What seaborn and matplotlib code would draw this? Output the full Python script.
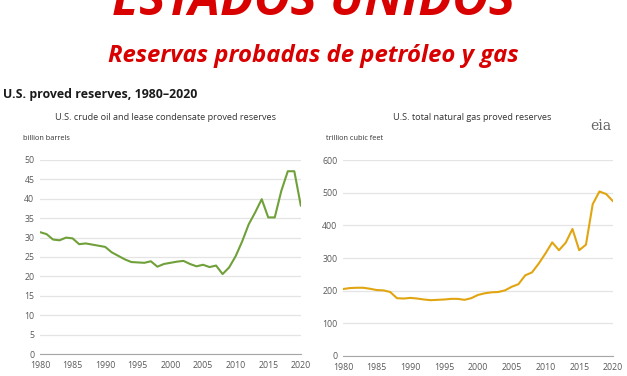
import seaborn as sns
import matplotlib.pyplot as plt
import pandas as pd

# Datos (EIA, reservas probadas 1980-2020)
anios = list(range(1980, 2021))
petroleo = [31.4, 30.9, 29.5, 29.3, 30.0, 29.8, 28.3, 28.5, 28.2, 27.9,
            27.6, 26.2, 25.3, 24.4, 23.7, 23.6, 23.5, 23.9, 22.5, 23.2,
            23.5, 23.8, 24.0, 23.2, 22.6, 23.0, 22.4, 22.8, 20.6, 22.3,
            25.2, 29.0, 33.4, 36.5, 39.9, 35.2, 35.2, 42.0, 47.1, 47.1,
            38.2]
gas = [205, 208, 209, 209, 206, 202, 201, 196, 177, 176,
       178, 176, 173, 171, 172, 173, 175, 175, 172, 177,
       187, 192, 195, 196, 201, 212, 220, 247, 256, 283,
       314, 348, 324, 347, 389, 324, 341, 465, 504, 496,
       474]
ticks_x = list(range(1980, 2021, 5))
ticks_petroleo = list(range(0, 51, 5))
ticks_gas = list(range(0, 601, 100))

datos = pd.DataFrame({'anio': anios, 'petroleo': petroleo, 'gas': gas})

sns.set_style('white')
plt.rcParams['font.family'] = ['Open Sans', 'DejaVu Sans']

fig = plt.figure(figsize=(6.27, 3.76), dpi=100)
ax1 = fig.add_axes([0.0638, 0.0585, 0.416, 0.516])
ax2 = fig.add_axes([0.547, 0.0532, 0.4306, 0.521])

gris = '#595959'

def estilo(ax, yticks, ymax):
    ax.set_xlim(1980, 2020)
    ax.set_ylim(0, ymax)
    ax.set_xticks(ticks_x)
    ax.set_yticks(yticks)
    ax.grid(axis='y', color='#e4e4e4', linewidth=0.9)
    ax.set_axisbelow(True)
    for s in ['top', 'right', 'left']:
        ax.spines[s].set_visible(False)
    ax.spines['bottom'].set_color('#a6a6a6')
    ax.tick_params(axis='x', direction='out', length=3, color='#a6a6a6',
                   labelsize=6.3, labelcolor=gris, pad=2)
    ax.tick_params(axis='y', length=0, labelsize=6.3, labelcolor=gris, pad=4)
    ax.set_xlabel('')
    ax.set_ylabel('')

sns.lineplot(data=datos, x='anio', y='petroleo', ax=ax1, color='#70a03a',
             linewidth=1.5)
estilo(ax1, ticks_petroleo, 50)
sns.lineplot(data=datos, x='anio', y='gas', ax=ax2, color='#e2a512',
             linewidth=1.5)
estilo(ax2, ticks_gas, 600)

rojo = '#d90000'
fig.text(0.5, 1 - 15 / 376, 'ESTADOS UNIDOS', ha='center', va='baseline',
         fontsize=36, fontweight='bold', style='italic', color=rojo)
fig.text(0.5, 1 - 62 / 376, 'Reservas probadas de petróleo y gas',
         ha='center', va='baseline', fontsize=17.2, fontweight='bold',
         style='italic', color=rojo)
fig.text(3 / 627, 1 - 98 / 376, 'U.S. proved reserves, 1980–2020',
         ha='left', va='baseline', fontsize=8.9, fontweight='bold',
         color='#1a1a1a')
fig.text(166 / 627, 1 - 118 / 376,
         'U.S. crude oil and lease condensate proved reserves',
         ha='center', va='center', fontsize=6.55, color='#333333')
fig.text(472 / 627, 1 - 118 / 376, 'U.S. total natural gas proved reserves',
         ha='center', va='center', fontsize=6.6, color='#333333')
fig.text(23 / 627, 1 - 138 / 376, 'billion barrels', ha='left', va='center',
         fontsize=5.3, color='#333333')
fig.text(326 / 627, 1 - 138 / 376, 'trillion cubic feet', ha='left',
         va='center', fontsize=5.3, color='#333333')
fig.text(601 / 627, 1 - 126 / 376, 'eia', ha='center', va='center',
         fontsize=10, family='DejaVu Serif', color='#666666')

fig.savefig('out.png', dpi=100)
